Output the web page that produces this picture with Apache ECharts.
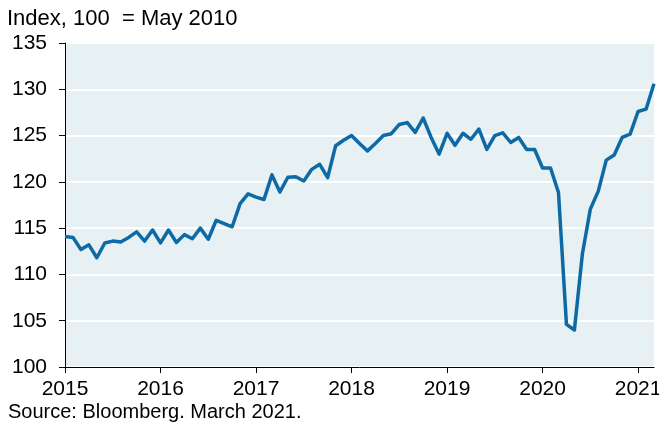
<!DOCTYPE html>
<html>
<head>
<meta charset="utf-8">
<script src="https://cdn.jsdelivr.net/npm/echarts@6/dist/echarts.min.js"></script>
<style>
  html, body { margin: 0; padding: 0; background: #fff; }
  #chart { width: 659px; height: 434px; }
</style>
</head>
<body>
<div id="chart"></div>
<script>
// monthly index, Jan 2015 .. Mar 2021 (100 = May 2010)
var yearLabels = ['2015', '2016', '2017', '2018', '2019', '2020', '2021'];
var values = [
  114.1, 114.0, 112.7, 113.2, 111.8, 113.4, 113.6, 113.5, 114.0, 114.6, 113.6, 114.8,
  113.4, 114.8, 113.45, 114.3, 113.85, 115.0, 113.8, 115.85, 115.5, 115.15, 117.65, 118.7,
  118.35, 118.1, 120.75, 118.9, 120.5, 120.55, 120.1, 121.35, 121.9, 120.45, 123.9, 124.5,
  125.0, 124.15, 123.35, 124.15, 125.0, 125.2, 126.2, 126.4, 125.35, 126.9, 124.8, 123.0,
  125.25, 123.95, 125.25, 124.6, 125.7, 123.5, 125.0, 125.3, 124.25, 124.8, 123.5, 123.5,
  121.5, 121.5, 118.85, 104.6, 104.0, 112.2, 117.05, 119.0, 122.35, 122.9, 124.8, 125.15,
  127.6, 127.85, 130.6
];

var chart = echarts.init(document.getElementById('chart'));

// x = month index from Jan 2015
var points = values.map(function (v, i) { return [i, v]; });

var font = 'Liberation Sans, Arial, sans-serif';

var option = {
  animation: false,
  textStyle: { fontFamily: font },
  title: [{
    text: 'Index, 100  = May 2010',
    left: 2, top: 3,
    textStyle: { fontFamily: font, fontSize: 22, fontWeight: 'normal', color: '#000' }
  }, {
    text: 'Source: Bloomberg. March 2021.',
    left: 3, top: 397,
    textStyle: { fontFamily: font, fontSize: 20, fontWeight: 'normal', color: '#000' }
  }],
  grid: {
    left: 65, right: 5, top: 43, bottom: 67,
    outerBoundsMode: 'none',
    containLabel: false,
    show: true, backgroundColor: '#e7f0f3', borderWidth: 0
  },
  xAxis: {
    type: 'value',
    min: 0, max: 74, interval: 12,
    axisLine: { show: true, lineStyle: { color: '#000', width: 1 } },
    axisTick: { show: true, length: 6, lineStyle: { color: '#000' } },
    splitLine: { show: false },
    axisLabel: {
      fontSize: 21, color: '#000', margin: 12, showMaxLabel: false,
      formatter: function (v) {
        return v % 12 === 0 ? yearLabels[v / 12] : '';
      }
    }
  },
  yAxis: {
    type: 'value',
    min: 100, max: 135, interval: 5,
    axisLine: { show: true, lineStyle: { color: '#000', width: 1 } },
    axisTick: { show: true, length: 6, lineStyle: { color: '#000' } },
    splitLine: { show: true, lineStyle: { color: '#fff', width: 2 } },
    axisLabel: { fontSize: 21, color: '#000', margin: 18 }
  },
  series: [{
    type: 'line',
    data: points,
    showSymbol: false,
    clip: false,
    lineStyle: { color: '#0d6aa6', width: 3.5, join: 'round' }
  }]
};

chart.setOption(option);
</script>
</body>
</html>
